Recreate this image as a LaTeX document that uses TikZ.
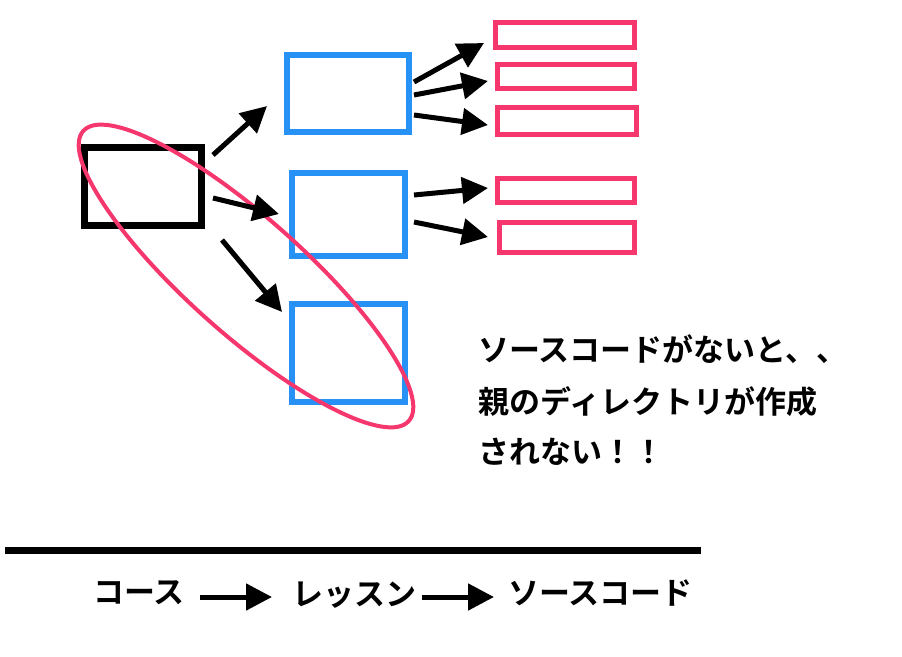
\documentclass[tikz,border=0pt]{standalone}
\usepackage{fontspec}
\newfontfamily\cjk{Noto Sans CJK JP Bold}
\usetikzlibrary{arrows.meta}
\begin{document}
\begin{tikzpicture}[x=1pt,y=-1pt,
  blk/.style={draw=black,line width=7pt},
  arr/.style={line width=5pt,-{Triangle[length=26pt,width=26pt]}},
  txt/.style={font=\cjk\fontsize{31pt}{35pt}\selectfont,anchor=west,inner sep=0pt}]
\useasboundingbox (0,0) rectangle (902,656);
\definecolor{bl}{RGB}{40,145,245}
\definecolor{rr}{RGB}{245,55,110}
\tikzset{blu/.style={draw=bl,line width=6pt},rd/.style={draw=rr,line width=5pt}}
\draw[blk] (84,147) rectangle (201,225);
\draw[blu] (287,55) rectangle (409,132);
\draw[blu] (292,173) rectangle (405,256);
\draw[blu] (292,304) rectangle (405,402);
\draw[rd] (495,22) rectangle (634,47);
\draw[rd] (497,64) rectangle (634,88);
\draw[rd] (497,107) rectangle (636,134);
\draw[rd] (497,178) rectangle (634,202);
\draw[rd] (499,222) rectangle (634,252);
\draw[rr,line width=4pt,rotate around={-41.7:(246,276)}] (246,276) ellipse (218 and 58);
\coordinate (a1) at (213,155); \coordinate (b1) at (267,106);
\coordinate (a2) at (213,198); \coordinate (b2) at (279,214);
\coordinate (a3) at (222,240); \coordinate (b3) at (282,312);
\draw[arr] (a1) -- (b1);
\draw[arr] (a2) -- (b2);
\draw[arr] (a3) -- (b3);
\coordinate (c1) at (414,82); \coordinate (d1) at (484,43);
\coordinate (c2) at (414,95); \coordinate (d2) at (488,81);
\coordinate (c3) at (414,115); \coordinate (d3) at (488,125);
\coordinate (c4) at (414,195); \coordinate (d4) at (488,188);
\coordinate (c5) at (414,222); \coordinate (d5) at (488,237);
\foreach \i in {1,...,5} \draw[arr] (c\i) -- (d\i);
\node[txt] (t1) at (478,349) {ソースコードがないと、、};
\node[txt] (t2) at (478,402) {親のディレクトリが作成};
\node[txt] (t3) at (478,452) {されない！！};
\coordinate (l1) at (5,550); \coordinate (l2) at (701,550);
\draw[line width=7pt] (l1) -- (l2);
\node[txt] (n1) at (93,593) {コース};
\node[txt] (n2) at (292,595) {レッスン};
\node[txt] (n3) at (508,593) {ソースコード};
\draw[arr] (200,597) -- (272,597);
\draw[arr] (422,597) -- (494,597);
\end{tikzpicture}
\end{document}
